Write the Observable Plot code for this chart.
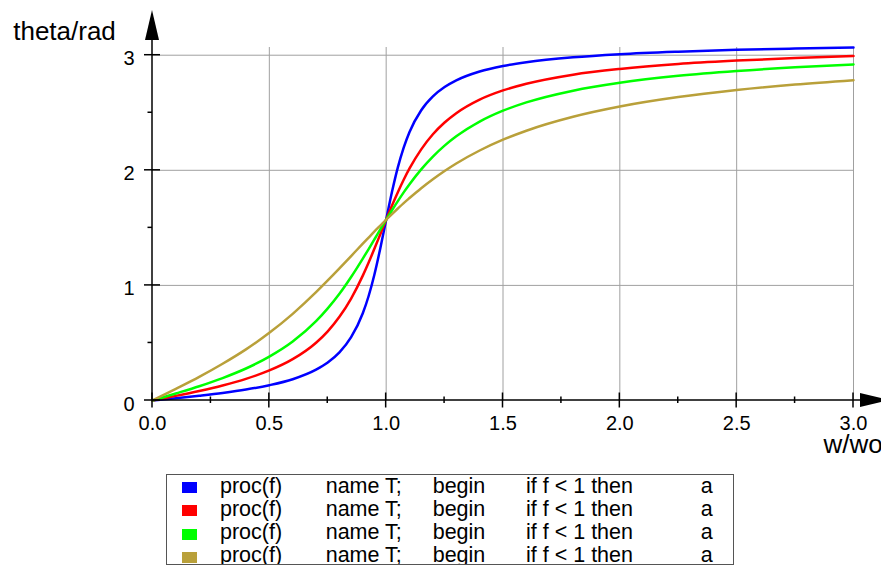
<!DOCTYPE html>
<html><head><meta charset="utf-8">
<script src="https://cdn.jsdelivr.net/npm/d3@7"></script>
<script src="https://cdn.jsdelivr.net/npm/@observablehq/plot@0.6"></script>
<style>
html,body{margin:0;padding:0;background:#fff;}
body{width:881px;height:566px;overflow:hidden;position:relative;font-family:"Liberation Sans",Arial,sans-serif;color:#000;}
#chart{position:absolute;left:0;top:0;}
#legend{position:absolute;left:166px;top:474px;width:568px;height:91px;border:1px solid #555;box-sizing:border-box;background:#fff;overflow:hidden;}
.row{position:absolute;left:0;height:23.33px;line-height:23.33px;font-size:21.5px;white-space:pre;width:100%;}
.row span.t{position:absolute;top:0;}
.row span.sw{position:absolute;width:15px;height:11px;}
</style></head><body>
<div id="chart"></div>
<div id="legend"></div>
<script>
// frequency ratio w/wo
const w = [0, 0.1, 0.2, 0.3, 0.4, 0.5, 0.6, 0.7, 0.75, 0.8, 0.85, 0.9, 0.925, 0.95, 0.975, 1.0, 1.025, 1.05, 1.075, 1.1, 1.15, 1.2, 1.25, 1.3, 1.4, 1.5, 1.6, 1.8, 2.0, 2.25, 2.5, 2.75, 3.0];
// theta/rad for each curve
const blue  = [0, 0.020, 0.042, 0.066, 0.095, 0.133, 0.185, 0.268, 0.330, 0.418, 0.550, 0.758, 0.908, 1.097, 1.323, 1.571, 1.813, 2.025, 2.197, 2.333, 2.522, 2.642, 2.723, 2.781, 2.858, 2.906, 2.939, 2.982, 3.009, 3.031, 3.047, 3.058, 3.067];
const red   = [0, 0.040, 0.083, 0.131, 0.188, 0.261, 0.359, 0.502, 0.601, 0.727, 0.886, 1.085, 1.199, 1.320, 1.445, 1.571, 1.694, 1.810, 1.918, 2.016, 2.182, 2.313, 2.415, 2.496, 2.614, 2.694, 2.752, 2.831, 2.881, 2.924, 2.953, 2.976, 2.993];
const green = [0, 0.061, 0.124, 0.195, 0.278, 0.381, 0.512, 0.689, 0.800, 0.927, 1.073, 1.233, 1.316, 1.401, 1.487, 1.571, 1.653, 1.732, 1.808, 1.879, 2.008, 2.119, 2.214, 2.295, 2.423, 2.518, 2.590, 2.692, 2.761, 2.821, 2.863, 2.895, 2.920];
const gold  = [0, 0.101, 0.205, 0.319, 0.444, 0.588, 0.753, 0.941, 1.043, 1.148, 1.255, 1.363, 1.416, 1.469, 1.520, 1.571, 1.620, 1.668, 1.715, 1.759, 1.844, 1.922, 1.994, 2.059, 2.172, 2.266, 2.344, 2.465, 2.554, 2.636, 2.697, 2.745, 2.783];

const xMajor = [0, 0.5, 1.0, 1.5, 2.0, 2.5, 3.0];
const xMinor = [0.25, 0.75, 1.25, 1.75, 2.25, 2.75];
const yMajor = [0, 1, 2, 3];
const yMinor = [0.5, 1.5, 2.5];
const xLabel = "w/wo";
const yLabel = "theta/rad";
const legendCols = ["proc(f)", "name T;", "begin", "if f < 1 then", "a"];

const seriesColors = ["#0000ff", "#ff0000", "#00ff00", "#b9a03a"];
const series = [blue, red, green, gold];
const rows = series.flatMap((vals, i) => vals.map((t, j) => ({w: w[j], theta: t, s: i})));
const yMax = d3.max(rows, d => d.theta);

function axisLines(index, scales, values, dims) {
  const {x, y} = scales;
  const g = d3.create("svg:g").attr("stroke", "black").attr("stroke-width", 1.5).attr("fill", "black");
  const x0 = x(0), y0 = y(0), top = dims.marginTop, right = dims.width - dims.marginRight;
  g.append("line").attr("x1", x0).attr("x2", x0).attr("y1", y0).attr("y2", top - 7);
  g.append("path").attr("stroke", "none").attr("d", `M${x0 - 7},${top - 7}L${x0 + 7},${top - 7}L${x0},${top - 37}Z`);
  g.append("line").attr("x1", x0).attr("x2", right + 7).attr("y1", y0).attr("y2", y0);
  g.append("path").attr("stroke", "none").attr("d", `M${right + 7},${y0 - 7}L${right + 7},${y0 + 7}L${right + 37},${y0}Z`);
  for (const t of xMajor) g.append("line").attr("x1", x(t)).attr("x2", x(t)).attr("y1", y0 - 7.5).attr("y2", y0 + 7.5);
  for (const t of xMinor) g.append("line").attr("x1", x(t)).attr("x2", x(t)).attr("y1", y0 - 3.5).attr("y2", y0 + 3);
  for (const t of yMajor) g.append("line").attr("x1", x0 - 8).attr("x2", x0 + 8).attr("y1", y(t)).attr("y2", y(t));
  for (const t of yMinor) g.append("line").attr("x1", x0 - 4.5).attr("x2", x0).attr("y1", y(t)).attr("y2", y(t));
  return g.node();
}

const chart = Plot.plot({
  width: 881, height: 470,
  marginLeft: 152, marginRight: 28, marginTop: 47, marginBottom: 70,
  x: {domain: [0, 3]},
  y: {domain: [0, yMax]},
  color: {type: "ordinal", domain: [0, 1, 2, 3], range: seriesColors},
  style: {fontFamily: "'Liberation Sans', Arial, sans-serif", fontSize: "20px", color: "black", background: "white", overflow: "visible"},
  marks: [
    Plot.gridX(xMajor.filter(d => d > 0), {stroke: "#a0a0a0", strokeOpacity: 1, strokeWidth: 1}),
    Plot.gridY(yMajor.filter(d => d > 0), {stroke: "#a0a0a0", strokeOpacity: 1, strokeWidth: 1}),
    Plot.line(rows, {x: "w", y: "theta", z: "s", stroke: "s", strokeWidth: 2.5, curve: "monotone-x"}),
    axisLines,
    Plot.axisX(xMajor, {tickSize: 0, tickPadding: 15, tickFormat: d3.format(".1f"), label: null, fontSize: 20}),
    Plot.axisY(yMajor, {tickSize: 0, tickPadding: 18, tickFormat: d3.format("d"), label: null, fontSize: 20, dy: 3.6}),
    Plot.text([yLabel], {text: d => d, frameAnchor: "top-left", lineAnchor: "middle", dx: -139.3, dy: -16.3, textAnchor: "start", fontSize: 26}),
    Plot.text([xLabel], {text: d => d, frameAnchor: "bottom-right", lineAnchor: "middle", dx: -30, dy: 43.7, textAnchor: "start", fontSize: 26})
  ]
});
document.getElementById("chart").appendChild(chart);

const legend = d3.select("#legend");
const colX = [53, 158.7, 265.7, 359, 533.7];
series.forEach((_, i) => {
  const row = legend.append("div").attr("class", "row").style("top", (-0.5 + i * 23.33) + "px");
  row.append("span").attr("class", "sw").style("left", "15px").style("top", "7.5px").style("background", seriesColors[i]);
  legendCols.forEach((c, k) => {
    row.append("span").attr("class", "t").style("left", colX[k] + "px").text(c);
  });
});
</script>
</body></html>
